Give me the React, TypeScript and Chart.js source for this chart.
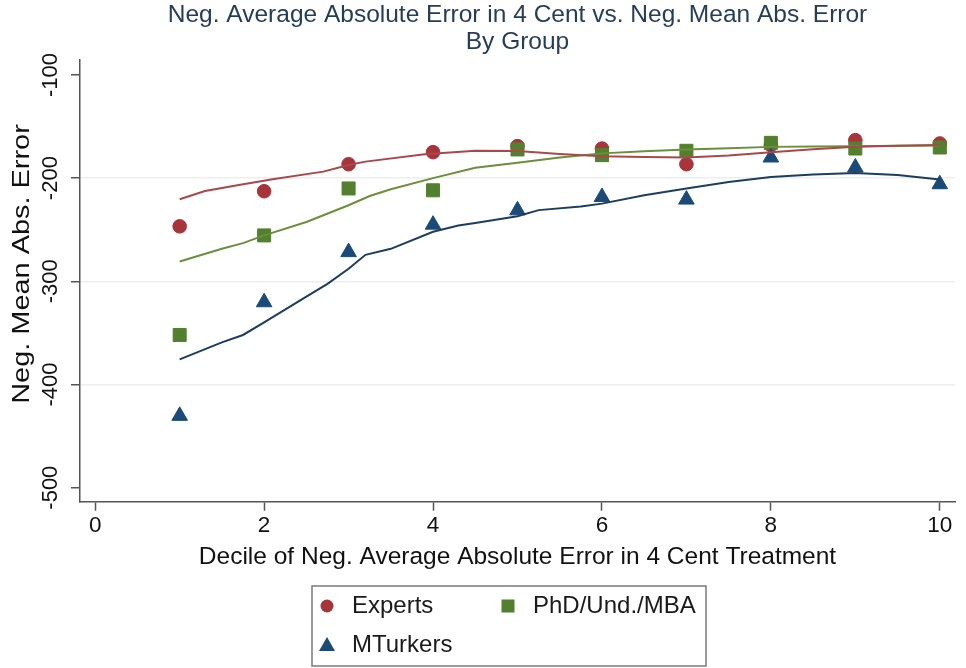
import React, { useEffect, useRef } from 'react';
import { Chart, registerables } from 'chart.js';

Chart.register(...registerables);

// ---- data ----
const deciles = [1, 2, 3, 4, 5, 6, 7, 8, 9, 10];
const expertsValues = [-246.7, -212.7, -186.5, -174.8, -169, -171.3, -186.5, -168, -163.2, -166.4];
const phdValues = [-352, -255.5, -210, -211.8, -172.2, -177.7, -173.5, -165.8, -171.3, -170.3];
const mturkValues = [-430.4, -320.3, -271.7, -245.1, -231.2, -218.3, -220.8, -180, -189.7, -205.9];

const expertsLineX = [1, 1.3, 1.7, 2.1, 2.7, 3, 3.2, 3.9, 4.5, 5, 5.5, 6, 6.5, 7, 7.5, 8, 8.5, 9, 9.5, 10];
const expertsLineY = [-220.5, -212.5, -206.6, -201.1, -193.7, -187.2, -184, -176.9, -173.4, -173.8, -176.5, -178.7, -179.5, -180, -178, -175, -172, -169.5, -168.5, -168];
const phdLineX = [1, 1.5, 1.75, 2, 2.5, 3, 3.25, 3.5, 4, 4.5, 5, 5.5, 6, 6.5, 7, 7.5, 8, 8.5, 9, 9.5, 10];
const phdLineY = [-280.8, -268.5, -263, -255.5, -242.5, -226.3, -217.3, -210.8, -200, -190, -185, -180, -176, -174, -172.2, -171, -169.7, -169.3, -169, -168.6, -168.3];
const mturkLineX = [1, 1.5, 1.75, 2, 2.5, 2.75, 3, 3.2, 3.5, 4, 4.3, 4.5, 5, 5.25, 5.75, 6, 6.5, 7, 7.5, 8, 8.5, 9, 9.5, 10];
const mturkLineY = [-375.7, -359.2, -352, -339.7, -314.8, -302.4, -287.9, -274.3, -268.5, -252, -246, -243.5, -237, -231, -227.6, -224.7, -216.6, -210.1, -203.7, -198.8, -196.5, -195, -197, -201.4];

const xTicks = [0, 2, 4, 6, 8, 10];
const yTicks = [-500, -400, -300, -200, -100];
const yGridValues = [-400, -300, -200];

const titleLines = ['Neg. Average Absolute Error in 4 Cent vs. Neg. Mean Abs. Error', 'By Group'];
const xTitle = 'Decile of Neg. Average Absolute Error in 4 Cent Treatment';
const yTitle = 'Neg. Mean Abs. Error';
const seriesNames = ['Experts', 'PhD/Und./MBA', 'MTurkers'];

const RED = '#a8343b';
const GREEN = '#52802e';
const NAVY = '#1b4a78';
const RED_LINE = '#a8484c';
const GREEN_LINE = '#6b8f3b';
const NAVY_LINE = '#1d3d60';
const FONT = "'Liberation Sans', Arial, Helvetica, sans-serif";

const pts = (xs: number[], ys: number[]) => xs.map((x, i) => ({ x, y: ys[i] }));

const titleCenterPlugin = {
  id: 'titleCenter',
  afterLayout(chart: any) {
    const tb = chart.titleBlock;
    if (tb && chart.chartArea) {
      tb.left = chart.chartArea.left;
      tb.right = chart.chartArea.right;
      tb.width = tb.right - tb.left;
    }
  },
};

const yTitlePlugin = {
  id: 'yTitle',
  afterDraw(chart: any) {
    const ctx = chart.ctx as CanvasRenderingContext2D;
    ctx.save();
    ctx.translate(22, 264);
    ctx.rotate(-Math.PI / 2);
    ctx.scale(1.18, 1);
    ctx.font = `24.5px ${FONT}`;
    ctx.fillStyle = '#111';
    ctx.textAlign = 'center';
    ctx.textBaseline = 'middle';
    ctx.fillText(yTitle, 0, 0);
    ctx.restore();
  },
};

const legendPlugin = {
  id: 'boxLegend',
  afterDraw(chart: any) {
    const ctx = chart.ctx as CanvasRenderingContext2D;
    ctx.save();
    const bx = 312, by = 586, bw = 394, bh = 80;
    ctx.strokeStyle = '#7a7a7a';
    ctx.lineWidth = 1.5;
    ctx.strokeRect(bx, by, bw, bh);
    ctx.font = `24px ${FONT}`;
    ctx.textBaseline = 'middle';
    ctx.textAlign = 'left';
    const row1 = 606, row2 = 645;
    ctx.fillStyle = RED;
    ctx.beginPath();
    ctx.arc(327, row1, 6.5, 0, Math.PI * 2);
    ctx.fill();
    ctx.fillStyle = GREEN;
    ctx.fillRect(508 - 6.5, row1 - 6.5, 13, 13);
    ctx.fillStyle = NAVY;
    ctx.beginPath();
    ctx.moveTo(327, row2 - 8);
    ctx.lineTo(327 + 8, row2 + 6);
    ctx.lineTo(327 - 8, row2 + 6);
    ctx.closePath();
    ctx.fill();
    ctx.fillStyle = '#1a1a1a';
    ctx.fillText(seriesNames[0], 352, row1);
    ctx.fillText(seriesNames[1], 533, row1);
    ctx.fillText(seriesNames[2], 352, row2);
    ctx.restore();
  },
};

export default function App() {
  const ref = useRef<HTMLCanvasElement | null>(null);
  useEffect(() => {
    if (!ref.current) return;
    const chart = new Chart(ref.current, {
      type: 'scatter',
      data: {
        datasets: [
          {
            label: seriesNames[0],
            data: pts(deciles, expertsValues),
            pointStyle: 'circle',
            pointRadius: 6.8,
            backgroundColor: RED,
            borderColor: RED,
            borderWidth: 1,
            order: 3,
          },
          {
            label: seriesNames[1],
            data: pts(deciles, phdValues),
            pointStyle: 'rect',
            pointRadius: 9.2,
            backgroundColor: GREEN,
            borderColor: GREEN,
            borderWidth: 1,
            order: 2,
          },
          {
            label: seriesNames[2],
            data: pts(deciles, mturkValues),
            pointStyle: 'triangle',
            pointRadius: 9,
            backgroundColor: NAVY,
            borderColor: NAVY,
            borderWidth: 1,
            order: 1,
          },
          {
            label: 'lowess ' + seriesNames[0],
            data: pts(expertsLineX, expertsLineY),
            showLine: true,
            pointRadius: 0,
            borderColor: RED_LINE,
            borderWidth: 2,
            tension: 0,
            order: 0,
          },
          {
            label: 'lowess ' + seriesNames[1],
            data: pts(phdLineX, phdLineY),
            showLine: true,
            pointRadius: 0,
            borderColor: GREEN_LINE,
            borderWidth: 2,
            tension: 0,
            order: 0,
          },
          {
            label: 'lowess ' + seriesNames[2],
            data: pts(mturkLineX, mturkLineY),
            showLine: true,
            pointRadius: 0,
            borderColor: NAVY_LINE,
            borderWidth: 2,
            tension: 0,
            order: 0,
          },
        ],
      },
      options: {
        animation: false,
        responsive: true,
        maintainAspectRatio: false,
        layout: { padding: { left: 0, right: 11, top: 0, bottom: 96.3 } },
        plugins: {
          legend: { display: false },
          tooltip: { enabled: false },
          title: {
            display: true,
            text: titleLines,
            color: '#263d58',
            font: { family: FONT, size: 24.5, weight: 'normal', lineHeight: 1.1 },
            padding: { top: 1.5, bottom: 4.6 },
          },
        },
        scales: {
          x: {
            type: 'linear',
            min: -0.18,
            max: 10.18,
            afterBuildTicks: (scale: any) => {
              scale.ticks = xTicks.map((v) => ({ value: v }));
            },
            afterFit: (scale: any) => {
              scale.height = 70;
            },
            ticks: {
              color: '#111',
              font: { family: FONT, size: 22.5 },
              padding: 2,
              maxRotation: 0,
              autoSkip: false,
            },
            grid: {
              drawOnChartArea: false,
              color: 'rgba(0,0,0,0)',
              tickColor: '#555',
              tickLength: 9,
              tickWidth: 1.5,
            },
            border: { display: true, color: '#555', width: 1.5 },
            title: {
              display: true,
              text: xTitle,
              color: '#111',
              font: { family: FONT, size: 24.5 },
              padding: { top: 0, bottom: 0 },
            },
          },
          y: {
            type: 'linear',
            min: -513.6,
            max: -85.5,
            afterBuildTicks: (scale: any) => {
              scale.ticks = yTicks.map((v) => ({ value: v }));
            },
            afterFit: (scale: any) => {
              scale.width = 80;
            },
            ticks: {
              color: '#111',
              font: { family: FONT, size: 22 },
              padding: -2,
              minRotation: 90,
              maxRotation: 90,
              crossAlign: 'center',
              autoSkip: false,
            },
            grid: {
              color: (c: any) => (c.tick && yGridValues.includes(c.tick.value) ? '#eeeeee' : 'rgba(0,0,0,0)'),
              lineWidth: 1.5,
              tickColor: '#555',
              tickLength: 9,
              tickWidth: 1.5,
            },
            border: { display: true, color: '#555', width: 1.5 },
            title: { display: false },
          },
        },
      },
      plugins: [titleCenterPlugin, yTitlePlugin, legendPlugin],
    } as any);
    return () => chart.destroy();
  }, []);

  return (
    <div style={{ position: 'absolute', left: 0, top: 0, width: 966, height: 668, background: '#fff' }}>
      <canvas ref={ref} />
    </div>
  );
}
